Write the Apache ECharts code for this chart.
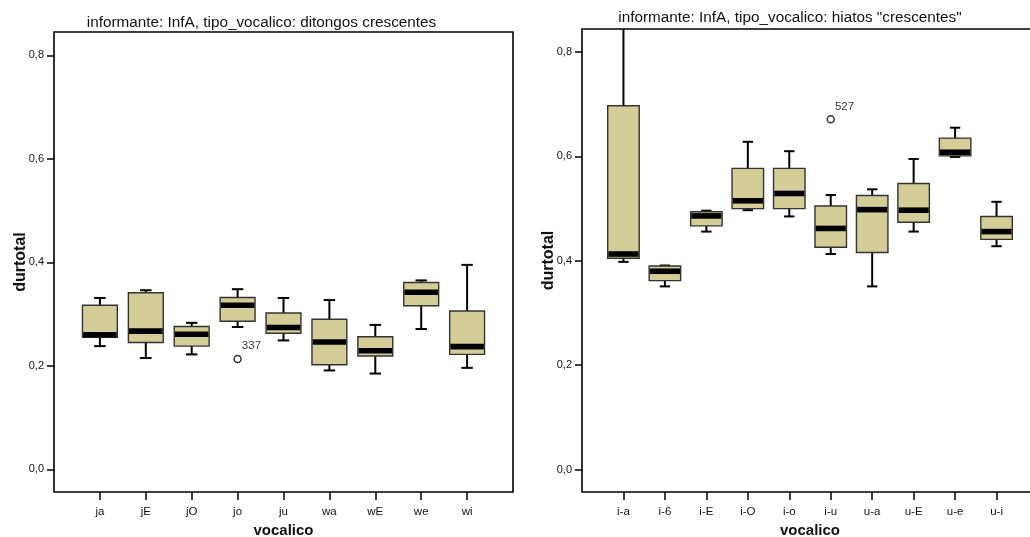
<!DOCTYPE html>
<html>
<head>
<meta charset="utf-8">
<script src="https://cdn.jsdelivr.net/npm/echarts@6/dist/echarts.min.js"></script>
<style>
  html, body { margin: 0; padding: 0; background: #fff; }
  #chart { width: 1030px; height: 537px; }
</style>
</head>
<body>
<div id="chart"></div>
<script>
// ditongos crescentes
const catsL = ['ja', 'jE', 'jO', 'jo', 'ju', 'wa', 'wE', 'we', 'wi'];
const lowL  = [0.238, 0.215, 0.222, 0.275, 0.249, 0.191, 0.185, 0.271, 0.196];
const q1L   = [0.255, 0.245, 0.238, 0.286, 0.263, 0.202, 0.219, 0.316, 0.222];
const medL  = [0.260, 0.267, 0.261, 0.317, 0.274, 0.246, 0.229, 0.342, 0.237];
const q3L   = [0.317, 0.341, 0.276, 0.332, 0.302, 0.290, 0.256, 0.361, 0.306];
const highL = [0.331, 0.346, 0.283, 0.348, 0.331, 0.327, 0.279, 0.365, 0.395];
const outCatL = ['jo'];
const outValL = [0.213];
const outIdL  = ['337'];

// hiatos "crescentes"
const catsR = ['i-a', 'i-6', 'i-E', 'i-O', 'i-o', 'i-u', 'u-a', 'u-E', 'u-e', 'u-i'];
const lowR  = [0.398, 0.351, 0.456, 0.497, 0.485, 0.413, 0.351, 0.456, 0.599, 0.428];
const q1R   = [0.405, 0.362, 0.467, 0.500, 0.500, 0.426, 0.416, 0.474, 0.601, 0.441];
const medR  = [0.413, 0.380, 0.486, 0.515, 0.529, 0.462, 0.498, 0.497, 0.608, 0.456];
const q3R   = [0.697, 0.390, 0.494, 0.577, 0.577, 0.505, 0.525, 0.548, 0.635, 0.485];
const highR = [0.850, 0.391, 0.496, 0.628, 0.610, 0.526, 0.537, 0.595, 0.655, 0.513];
const outCatR = ['i-u'];
const outValR = [0.671];
const outIdR  = ['527'];

const yTicks = [0, 0.2, 0.4, 0.6, 0.8];

const FONT = '"Liberation Sans", Arial, sans-serif';
const TXT = '#111';
const BOX_FILL = '#d3ce98';

function boxRows(cats, low, q1, med, q3, high) {
  return cats.map((c, i) => [i + 1, low[i], q1[i], med[i], q3[i], high[i]]);
}

function renderBox(params, api) {
  const x = api.value(0);
  const lo = api.coord([x, api.value(1)]);
  const b1 = api.coord([x, api.value(2)]);
  const md = api.coord([x, api.value(3)]);
  const b3 = api.coord([x, api.value(4)]);
  const hi = api.coord([x, api.value(5)]);
  const unit = api.size([1, 0])[0];
  const bw = unit * 0.76;
  const cw = unit * 0.25;
  const cx = md[0];
  const whisk = { stroke: '#000', lineWidth: 2 };
  return {
    type: 'group',
    children: [
      { type: 'line', shape: { x1: cx, y1: hi[1], x2: cx, y2: b3[1] }, style: whisk },
      { type: 'line', shape: { x1: cx, y1: b1[1], x2: cx, y2: lo[1] }, style: whisk },
      { type: 'line', shape: { x1: cx - cw / 2, y1: hi[1], x2: cx + cw / 2, y2: hi[1] }, style: whisk },
      { type: 'line', shape: { x1: cx - cw / 2, y1: lo[1], x2: cx + cw / 2, y2: lo[1] }, style: whisk },
      { type: 'rect', shape: { x: cx - bw / 2, y: b3[1], width: bw, height: b1[1] - b3[1] },
        style: { fill: BOX_FILL, stroke: '#333', lineWidth: 1.4 } },
      { type: 'rect', shape: { x: cx - bw / 2 + 0.7, y: md[1] - 2.8, width: bw - 1.4, height: 5.6 },
        style: { fill: '#000' } }
    ]
  };
}

function outlierRows(cats, outCat, outVal, outId) {
  return outCat.map((c, i) => ({ value: [cats.indexOf(c) + 1, outVal[i]], name: outId[i] }));
}

function xAxisFor(cats, gridIndex) {
  const pos = cats.map((c, i) => i + 1);
  return {
    type: 'value', gridIndex, min: 0, max: cats.length + 1, position: 'bottom',
    axisLine: { show: false, onZero: false },
    splitLine: { show: false },
    axisTick: { show: true, customValues: pos, length: 8, lineStyle: { color: '#000', width: 1.5 } },
    axisLabel: { customValues: pos, formatter: v => cats[Math.round(v) - 1] || '',
      margin: 14, fontSize: 11.5, fontFamily: FONT, color: TXT },
    name: 'vocalico', nameLocation: 'middle', nameGap: 31, nameMoveOverlap: false,
    nameTextStyle: { fontSize: 15, fontWeight: 'bold', fontFamily: FONT, color: TXT }
  };
}

function yAxisFor(min, max, gridIndex) {
  return {
    type: 'value', gridIndex, min, max, position: 'left',
    axisLine: { show: false, onZero: false },
    splitLine: { show: false },
    axisTick: { show: true, customValues: yTicks, length: 7, lineStyle: { color: '#000', width: 1.5 } },
    axisLabel: { customValues: yTicks, formatter: v => v.toFixed(1).replace('.', ','),
      margin: 10, fontSize: 11, fontFamily: FONT, color: TXT },
    name: 'durtotal', nameLocation: 'middle', nameGap: 25, nameMoveOverlap: false,
    nameTextStyle: { fontSize: 16, fontWeight: 'bold', fontFamily: FONT, color: TXT }
  };
}

function outlierSeries(data, axisIndex) {
  return {
    type: 'scatter', xAxisIndex: axisIndex, yAxisIndex: axisIndex,
    data, symbol: 'circle', symbolSize: 7,
    itemStyle: { color: '#fff', borderColor: '#000', borderWidth: 1.5 },
    label: { show: true, formatter: p => p.name, position: [8.5, -8.5],
      align: 'left', verticalAlign: 'middle', fontSize: 11.5, fontFamily: FONT, color: '#000' },
    z: 5
  };
}

const chart = echarts.init(document.getElementById('chart'));
chart.setOption({
  animation: false,
  backgroundColor: '#fff',
  grid: [
    { left: 54, top: 32, width: 459, height: 460, outerBoundsMode: 'none', containLabel: false,
      show: true, borderColor: '#000', borderWidth: 1.6, backgroundColor: 'transparent' },
    { left: 582, top: 29, width: 456, height: 463, outerBoundsMode: 'none', containLabel: false,
      show: true, borderColor: '#000', borderWidth: 1.6, backgroundColor: 'transparent' }
  ],
  xAxis: [xAxisFor(catsL, 0), xAxisFor(catsR, 1)],
  yAxis: [yAxisFor(-0.0439, 0.845, 0), yAxisFor(-0.0429, 0.8441, 1)],
  graphic: [
    { type: 'text', x: 261.5, y: 22.5, style: { text: 'informante: InfA, tipo_vocalico: ditongos crescentes',
      textAlign: 'center', textVerticalAlign: 'middle', fontSize: 15.3, fontFamily: FONT, fill: TXT } },
    { type: 'text', x: 790, y: 18, style: { text: 'informante: InfA, tipo_vocalico: hiatos "crescentes"',
      textAlign: 'center', textVerticalAlign: 'middle', fontSize: 15.3, fontFamily: FONT, fill: TXT } }
  ],
  series: [
    { type: 'custom', xAxisIndex: 0, yAxisIndex: 0, clip: true, renderItem: renderBox,
      data: boxRows(catsL, lowL, q1L, medL, q3L, highL) },
    { type: 'custom', xAxisIndex: 1, yAxisIndex: 1, clip: true, renderItem: renderBox,
      data: boxRows(catsR, lowR, q1R, medR, q3R, highR) },
    outlierSeries(outlierRows(catsL, outCatL, outValL, outIdL), 0),
    outlierSeries(outlierRows(catsR, outCatR, outValR, outIdR), 1)
  ]
});
</script>
</body>
</html>
